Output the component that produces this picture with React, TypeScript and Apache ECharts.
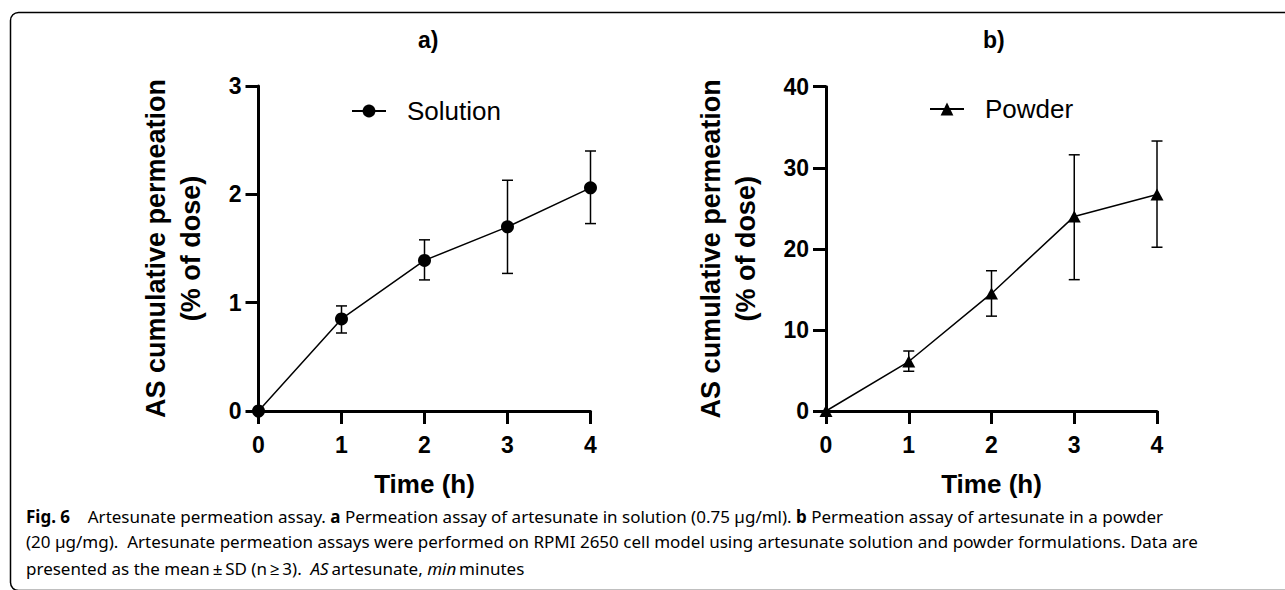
import React, { useEffect, useRef } from "react";
import * as echarts from "echarts";

const timeTicks = [0, 1, 2, 3, 4];
const solutionMean = [0, 0.85, 1.39, 1.7, 2.06];
const solutionLow = [null, 0.72, 1.21, 1.27, 1.73];
const solutionHigh = [null, 0.97, 1.58, 2.13, 2.4];
const powderMean = [0, 6.1, 14.5, 24.0, 26.7];
const powderLow = [null, 4.9, 11.7, 16.2, 20.2];
const powderHigh = [null, 7.4, 17.3, 31.6, 33.3];

const panelTitles = ["a)", "b)"];
const seriesNames = ["Solution", "Powder"];
const xAxisTitle = "Time (h)";
const yAxisTitle = "AS cumulative permeation\n(% of dose)";
const captionLines = [
  "{b|Fig. 6}    Artesunate permeation assay. {b|a} Permeation assay of artesunate in solution (0.75 µg/ml). {b|b} Permeation assay of artesunate in a powder",
  "(20 µg/mg).  Artesunate permeation assays were performed on RPMI 2650 cell model using artesunate solution and powder formulations. Data are",
  "presented as the mean\u2009±\u2009SD (n\u2009≥\u20093).  {i|AS}\u2009artesunate, {i|min}\u2009minutes",
];

const AX = "Liberation Sans, Arial, sans-serif";
const CAP = "Noto Sans, Open Sans, sans-serif";

function errRender(params: any, api: any) {
  const x = api.value(0);
  const lo = api.value(1);
  const hi = api.value(2);
  const pLo = api.coord([x, lo]);
  const pHi = api.coord([x, hi]);
  const w = 5.5;
  const st = { stroke: "#000", lineWidth: 1.5 };
  return {
    type: "group",
    children: [
      { type: "line", shape: { x1: pHi[0], y1: pHi[1], x2: pLo[0], y2: pLo[1] }, style: st },
      { type: "line", shape: { x1: pHi[0] - w, y1: pHi[1], x2: pHi[0] + w, y2: pHi[1] }, style: st },
      { type: "line", shape: { x1: pLo[0] - w, y1: pLo[1], x2: pLo[0] + w, y2: pLo[1] }, style: st },
    ],
  };
}

function errData(low: (number | null)[], high: (number | null)[]) {
  const out: number[][] = [];
  timeTicks.forEach((t, i) => {
    if (low[i] != null && high[i] != null) out.push([t, low[i] as number, high[i] as number]);
  });
  return out;
}

function xAxisDef(gridIndex: number) {
  return {
    type: "value",
    gridIndex,
    min: 0,
    max: 4,
    interval: 1,
    name: xAxisTitle,
    nameLocation: "middle",
    nameGap: 60,
    nameMoveOverlap: false,
    nameTextStyle: { fontFamily: AX, fontWeight: "bold", fontSize: 26, color: "#000" },
    axisLine: { show: true, onZero: false, lineStyle: { color: "#000", width: 3 } },
    axisTick: { show: true, inside: false, length: 13, lineStyle: { color: "#000", width: 3 } },
    axisLabel: { fontFamily: AX, fontWeight: "bold", fontSize: 23, color: "#000", margin: 22 },
    splitLine: { show: false },
  };
}

function yAxisDef(gridIndex: number, max: number, interval: number, nameGap: number) {
  return {
    type: "value",
    gridIndex,
    min: 0,
    max,
    interval,
    name: yAxisTitle,
    nameLocation: "middle",
    nameRotate: 90,
    nameGap,
    nameMoveOverlap: false,
    nameTextStyle: { fontFamily: AX, fontWeight: "bold", fontSize: 27, color: "#000", lineHeight: 35, align: "center" },
    axisLine: { show: true, onZero: false, lineStyle: { color: "#000", width: 3 } },
    axisTick: { show: true, inside: false, length: 13, lineStyle: { color: "#000", width: 3 } },
    axisLabel: { fontFamily: AX, fontWeight: "bold", fontSize: 23, color: "#000", margin: 17 },
    splitLine: { show: false },
  };
}

export default function App() {
  const ref = useRef<HTMLDivElement>(null);
  useEffect(() => {
    if (!ref.current) return;
    const chart = echarts.init(ref.current, null, { renderer: "svg" });
    const legendCommon = {
      orient: "horizontal",
      padding: 0,
      itemWidth: 34,
      itemHeight: 16,
      textStyle: { fontFamily: AX, fontSize: 26, color: "#000", padding: [0, 0, 0, 16], lineHeight: 30 },
    };
    chart.setOption({
      animation: false,
      backgroundColor: "#fff",
      title: [
        { text: panelTitles[0], left: 418, top: 28, padding: 0, textStyle: { fontFamily: AX, fontWeight: "bold", fontSize: 23, color: "#000" } },
        { text: panelTitles[1], left: 983, top: 28, padding: 0, textStyle: { fontFamily: AX, fontWeight: "bold", fontSize: 23, color: "#000" } },
      ],
      legend: [
        { ...legendCommon, data: [seriesNames[0]], left: 351, top: 96 },
        { ...legendCommon, data: [seriesNames[1]], left: 929, top: 94 },
      ],
      grid: [
        { left: 258.5, top: 86, width: 332, height: 325, containLabel: false, outerBoundsMode: "none" },
        { left: 826, top: 86.7, width: 331, height: 324.3, containLabel: false, outerBoundsMode: "none" },
      ],
      xAxis: [xAxisDef(0), xAxisDef(1)],
      yAxis: [yAxisDef(0, 3, 1, 50), yAxisDef(1, 40, 10, 63)],
      series: [
        {
          type: "custom",
          xAxisIndex: 0,
          yAxisIndex: 0,
          renderItem: errRender,
          encode: { x: 0, y: [1, 2] },
          data: errData(solutionLow, solutionHigh),
          z: 1,
          silent: true,
          clip: false,
        },
        {
          type: "custom",
          xAxisIndex: 1,
          yAxisIndex: 1,
          renderItem: errRender,
          encode: { x: 0, y: [1, 2] },
          data: errData(powderLow, powderHigh),
          z: 1,
          silent: true,
          clip: false,
        },
        {
          name: seriesNames[0],
          type: "line",
          xAxisIndex: 0,
          yAxisIndex: 0,
          data: timeTicks.map((t, i) => [t, solutionMean[i]]),
          symbol: "circle",
          symbolSize: 13,
          showAllSymbol: true,
          clip: false,
          lineStyle: { color: "#000", width: 1.5 },
          itemStyle: { color: "#000" },
          z: 3,
        },
        {
          name: seriesNames[1],
          type: "line",
          xAxisIndex: 1,
          yAxisIndex: 1,
          data: timeTicks.map((t, i) => [t, powderMean[i]]),
          symbol: "triangle",
          symbolSize: [13, 12],
          showAllSymbol: true,
          clip: false,
          lineStyle: { color: "#000", width: 1.5 },
          itemStyle: { color: "#000" },
          z: 3,
        },
      ],
      graphic: [
        {
          type: "rect",
          shape: { x: 10.5, y: 12.5, width: 1300, height: 578, r: 8 },
          style: { fill: "none", stroke: "#000", lineWidth: 1.5 },
          silent: true,
        },
        ...captionLines.map((line, i) => ({
          type: "text",
          x: 26,
          y: [516.7, 541.7, 568][i],
          style: {
            text: line,
            fontFamily: CAP,
            fontSize: 17,
            fill: "#000",
            verticalAlign: "middle",
            rich: {
              b: { fontFamily: CAP, fontSize: 17, fontWeight: "bold", fill: "#000" },
              i: { fontFamily: CAP, fontSize: 17, fontStyle: "italic", fill: "#000" },
            },
          },
          silent: true,
        })),
      ],
    });
    return () => chart.dispose();
  }, []);
  return (
    <div
      ref={ref}
      style={{ position: "absolute", left: 0, top: 0, width: 1285, height: 590, background: "#fff" }}
    />
  );
}
